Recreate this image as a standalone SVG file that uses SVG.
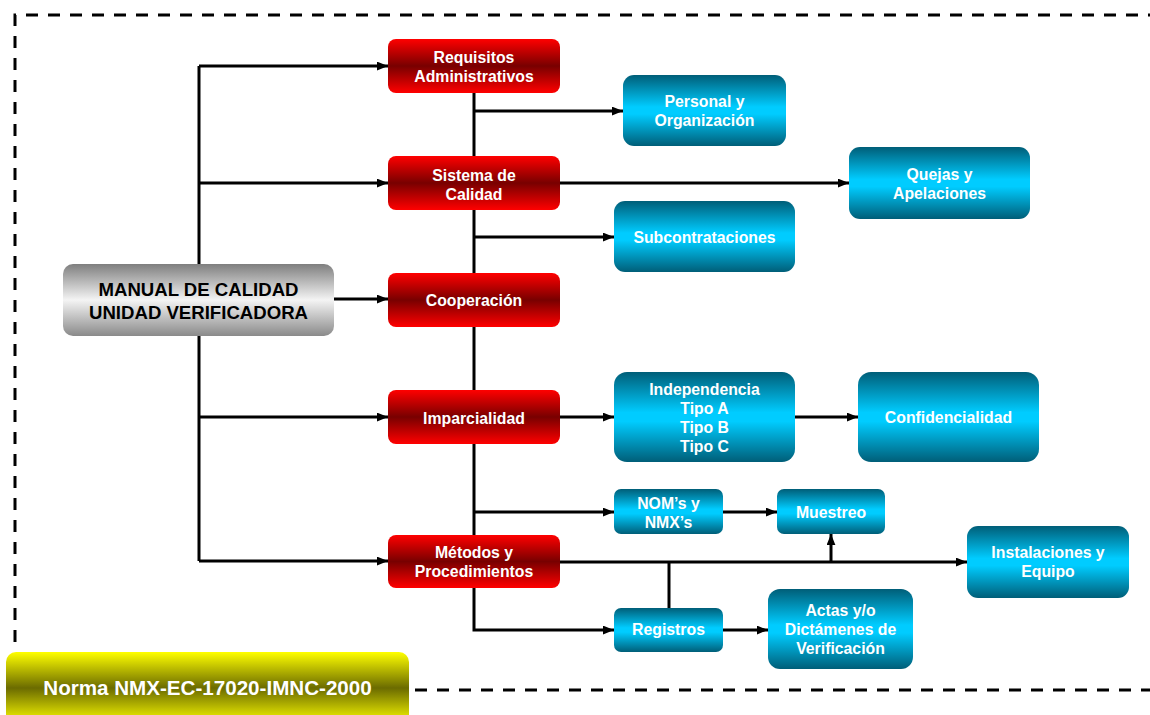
<svg xmlns="http://www.w3.org/2000/svg" width="1150" height="715" viewBox="0 0 1150 715">
  <style>
    .conn { fill: none; stroke: #000; stroke-width: 3; }
    .arrow { marker-end: url(#arrowhead); }
    .frame { fill: none; stroke: #000; stroke-width: 3; stroke-dasharray: 12 10; }
    .red { fill: url(#gradRed); }
    .blue { fill: url(#gradBlue); }
    .grey { fill: url(#gradGrey); }
    .yellow { fill: url(#gradYellow); }
    .lbl { font-family: "Liberation Sans", Arial, sans-serif; font-weight: bold; font-size: 15.8px; fill: #fff; text-anchor: middle; }
    .main { font-family: "Liberation Sans", Arial, sans-serif; font-weight: bold; font-size: 18.6px; fill: #000; text-anchor: middle; }
    .norm { font-family: "Liberation Sans", Arial, sans-serif; font-weight: bold; font-size: 20.6px; fill: #fff; text-anchor: middle; }
  </style>
  <defs>
    <marker id="arrowhead" viewBox="0 0 10 8" refX="10" refY="4" markerWidth="11" markerHeight="9" markerUnits="userSpaceOnUse" orient="auto">
      <path d="M0,0 L10,4 L0,8 z" fill="#000"/>
    </marker>
    <linearGradient id="gradRed" x1="0" y1="0" x2="0" y2="1">
      <stop offset="0" stop-color="#ff0000"/>
      <stop offset="0.5" stop-color="#780000"/>
      <stop offset="1" stop-color="#ff0000"/>
    </linearGradient>
    <linearGradient id="gradBlue" x1="0" y1="0" x2="0" y2="1">
      <stop offset="0" stop-color="#005e78"/>
      <stop offset="0.45" stop-color="#00ccff"/>
      <stop offset="0.55" stop-color="#00ccff"/>
      <stop offset="1" stop-color="#005e78"/>
    </linearGradient>
    <linearGradient id="gradGrey" x1="0" y1="0" x2="0" y2="1">
      <stop offset="0" stop-color="#7f7f7f"/>
      <stop offset="0.5" stop-color="#f4f4f4"/>
      <stop offset="1" stop-color="#8a8a8a"/>
    </linearGradient>
    <linearGradient id="gradYellow" x1="0" y1="0" x2="0" y2="1">
      <stop offset="0" stop-color="#ffff00"/>
      <stop offset="0.5" stop-color="#6b6b00"/>
      <stop offset="1" stop-color="#ffff00"/>
    </linearGradient>
  </defs>

  <rect width="1150" height="715" fill="#fff"/>

  <!-- dashed frame -->
  <g id="frame">
    <path class="frame" d="M15,642 V15 H1150"/>
    <path class="frame" d="M415,690 H1150"/>
  </g>

  <!-- connectors -->
  <g id="connectors">
    <path class="conn" d="M199,66 V561"/>
    <path class="conn arrow" d="M199,66 H388"/>
    <path class="conn arrow" d="M199,183 H388"/>
    <path class="conn arrow" d="M199,417 H388"/>
    <path class="conn arrow" d="M199,561 H388"/>
    <path class="conn arrow" d="M334,299 H388"/>
    <path class="conn arrow" d="M474,93 V630 H614"/>
    <path class="conn arrow" d="M474,111 H623"/>
    <path class="conn arrow" d="M474,237 H614"/>
    <path class="conn arrow" d="M474,512 H614"/>
    <path class="conn arrow" d="M560,183 H849"/>
    <path class="conn arrow" d="M560,417 H614"/>
    <path class="conn arrow" d="M795,417 H858"/>
    <path class="conn arrow" d="M723,512 H777"/>
    <path class="conn arrow" d="M560,562 H967"/>
    <path class="conn" d="M669,608 V562"/>
    <path class="conn arrow" d="M831,562 V534"/>
    <path class="conn arrow" d="M723,630 H768"/>
  </g>

  <!-- central node -->
  <g id="manual">
    <rect class="grey" x="63" y="264" width="271" height="72" rx="10"/>
    <text class="main" x="198.5" y="296">MANUAL DE CALIDAD</text>
    <text class="main" x="198.5" y="319">UNIDAD VERIFICADORA</text>
  </g>

  <!-- main requirement groups -->
  <g id="requisitos">
    <rect class="red" x="388" y="39" width="172" height="54" rx="8"/>
    <text class="lbl" x="474" y="63">Requisitos</text>
    <text class="lbl" x="474" y="82">Administrativos</text>
  </g>
  <g id="sistema">
    <rect class="red" x="388" y="156" width="172" height="54" rx="8"/>
    <text class="lbl" x="474" y="181">Sistema de</text>
    <text class="lbl" x="474" y="200">Calidad</text>
  </g>
  <g id="cooperacion">
    <rect class="red" x="388" y="273" width="172" height="54" rx="8"/>
    <text class="lbl" x="474" y="306">Cooperación</text>
  </g>
  <g id="imparcialidad">
    <rect class="red" x="388" y="390" width="172" height="54" rx="8"/>
    <text class="lbl" x="474" y="424">Imparcialidad</text>
  </g>
  <g id="metodos">
    <rect class="red" x="388" y="535" width="172" height="53" rx="8"/>
    <text class="lbl" x="474" y="558">Métodos y</text>
    <text class="lbl" x="474" y="577">Procedimientos</text>
  </g>

  <!-- detail items -->
  <g id="personal">
    <rect class="blue" x="623" y="75" width="163" height="71" rx="11"/>
    <text class="lbl" x="704.5" y="107">Personal y</text>
    <text class="lbl" x="704.5" y="126">Organización</text>
  </g>
  <g id="quejas">
    <rect class="blue" x="849" y="147" width="181" height="72" rx="11"/>
    <text class="lbl" x="939.5" y="180">Quejas y</text>
    <text class="lbl" x="939.5" y="199">Apelaciones</text>
  </g>
  <g id="subcontrataciones">
    <rect class="blue" x="614" y="201" width="181" height="71" rx="11"/>
    <text class="lbl" x="704.5" y="243">Subcontrataciones</text>
  </g>
  <g id="independencia">
    <rect class="blue" x="614" y="372" width="181" height="90" rx="13"/>
    <text class="lbl" x="704.5" y="395">Independencia</text>
    <text class="lbl" x="704.5" y="414">Tipo A</text>
    <text class="lbl" x="704.5" y="433">Tipo B</text>
    <text class="lbl" x="704.5" y="452">Tipo C</text>
  </g>
  <g id="confidencialidad">
    <rect class="blue" x="858" y="372" width="181" height="90" rx="13"/>
    <text class="lbl" x="948.5" y="423">Confidencialidad</text>
  </g>
  <g id="normas">
    <rect class="blue" x="614" y="489" width="109" height="45" rx="7"/>
    <text class="lbl" x="668.5" y="509">NOM’s y</text>
    <text class="lbl" x="668.5" y="528">NMX’s</text>
  </g>
  <g id="muestreo">
    <rect class="blue" x="777" y="489" width="108" height="45" rx="7"/>
    <text class="lbl" x="831" y="518">Muestreo</text>
  </g>
  <g id="instalaciones">
    <rect class="blue" x="967" y="526" width="162" height="72" rx="11"/>
    <text class="lbl" x="1048" y="558">Instalaciones y</text>
    <text class="lbl" x="1048" y="577">Equipo</text>
  </g>
  <g id="registros">
    <rect class="blue" x="614" y="608" width="109" height="44" rx="7"/>
    <text class="lbl" x="668.5" y="635">Registros</text>
  </g>
  <g id="actas">
    <rect class="blue" x="768" y="589" width="145" height="80" rx="12"/>
    <text class="lbl" x="840.5" y="616">Actas y/o</text>
    <text class="lbl" x="840.5" y="635">Dictámenes de</text>
    <text class="lbl" x="840.5" y="654">Verificación</text>
  </g>

  <!-- standard reference -->
  <g id="norma">
    <rect class="yellow" x="6" y="652" width="403" height="72" rx="10"/>
    <text class="norm" x="207.5" y="695">Norma NMX-EC-17020-IMNC-2000</text>
  </g>
</svg>
